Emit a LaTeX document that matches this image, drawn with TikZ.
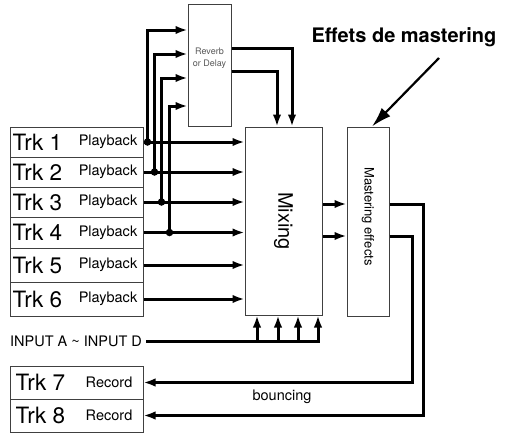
\documentclass[tikz,border=0pt]{standalone}
\usepackage{fontspec}
\setmainfont{TeX Gyre Heros}
\usetikzlibrary{calc,arrows.meta}
\tikzset{box/.style={draw=black!75,line width=1pt,inner sep=0pt},track/.style={box,minimum width=133pt},
	wire/.style={line width=3pt},signal/.style={wire,-{Latex[length=12pt,width=8.5pt]}},
	dot/.style={circle,fill,inner sep=0pt,minimum size=7.5pt},
	big label/.style={inner sep=0pt,font=\fontsize{22.5}{22.5}\selectfont},
	small label/.style={inner sep=0pt,font=\fontsize{14.5}{14.5}\selectfont}}

\begin{document}
\begin{tikzpicture}[x=1pt,y=-1pt]
			\useasboundingbox (0,0) rectangle (507,434);
			\foreach \i/\yc/\h in {1/142/30,2/172/30,3/202/30,4/232.5/31,5/265/34,6/299/34}{
				\node[track,minimum height=\h pt] (trk\i) at (76.5,\yc) {};
				\node[big label,anchor=west] (trk\i name) at ($(trk\i.west)+(3,0)$) {Trk \i};
				\node[small label,anchor=east] (trk\i mode) at ($(trk\i.east)+(-6,0)$) {Playback};
			}
			\foreach \i/\yc in {7/382.5,8/415.5}{
				\node[track,minimum height=33pt] (trk\i) at (76.5,\yc) {};
				\node[big label,anchor=west] (trk\i name) at ($(trk\i.west)+(6,0)$) {Trk \i};
				\node[small label,anchor=east] (trk\i mode) at ($(trk\i.east)+(-11,0)$) {Record};
			}
			\node[box,minimum width=43pt,minimum height=122pt] (rev) at (209.5,65) {};
			\node[align=center,inner sep=0pt,text=black!65,font=\fontsize{9}{12}\selectfont] (revname) at (209.5,58) {Reverb\\or Delay};
			\node[box,minimum width=77pt,minimum height=188pt] (mix) at (283.5,221) {};
			\node[rotate=-90,inner sep=0pt,font=\fontsize{20}{20}\selectfont] (mixname) at (mix.center) {Mixing};
			\node[box,minimum width=42pt,minimum height=189pt] (mast) at (368,221.5) {};
			\node[rotate=-90,inner sep=0pt,font=\fontsize{13}{13}\selectfont] (mastname) at ($(mast.center)+(0,-5)$) {Mastering effects};
			\foreach \i in {1,...,6}
				\draw[signal] (trk\i.east) -- (trk\i.east -| mix.west);
			\foreach \i/\dx/\yr in {1/4/30,2/11/54,3/18/78,4/26/106}{
				\coordinate (tap\i) at ($(trk\i.east)+(\dx,0)$);
				\coordinate (rin\i) at (rev.west |- 0,\yr);
				\draw[signal] (tap\i) |- (rin\i);
				\node[dot] (dot\i) at (tap\i) {};
			}
			\coordinate (rout1) at (rev.east |- 0,48);
			\coordinate (rout2) at (rev.east |- 0,71);
			\draw[signal] (rout1) -| (mix.north -| 292,0);
			\draw[signal] (rout2) -| (mix.north -| 277,0);
			\foreach \i/\y in {1/204,2/236}{
				\coordinate (mout\i) at (mix.east |- 0,\y);
				\draw[signal] (mout\i) -- (mout\i -| mast.west);
			}
			\coordinate (bnc7) at (trk7.east -| 412,0);
			\coordinate (bnc8) at (trk8.east -| 423,0);
			\draw[signal] (mast.east |- mout2) -| (bnc7) -- (trk7.east);
			\draw[signal] (mast.east |- mout1) -| (bnc8) -- (trk8.east);
			\node[small label] (bounce) at (282,397) {bouncing};
			\node[small label,anchor=west] (inp) at (10,341) {INPUT A \textasciitilde{} INPUT D};
			\draw[wire] ($(inp.east)+(4,0)$) -- (inp.east -| 319.5,0);
			\foreach \x in {257,278,298,318}
				\draw[signal] (inp.east -| \x,0) -- (mix.south -| \x,0);
			\node[font=\bfseries\fontsize{20}{20}\selectfont] (title) at (404,37) {Effets de mastering};
			\coordinate (ann) at (439,58);
			\draw[line width=2.2pt,-{Latex[length=20pt,width=12pt]}] (ann) -- ($(mast.north)+(4,0)$);
		\end{tikzpicture}
\end{document}
